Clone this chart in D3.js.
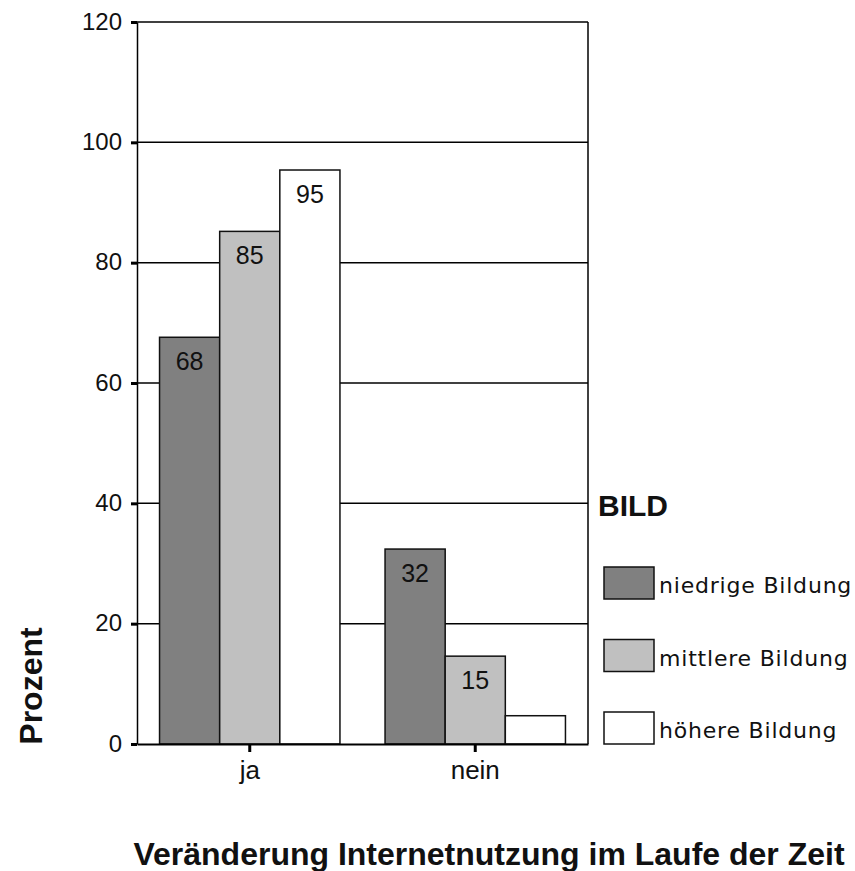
<!DOCTYPE html>
<html>
<head>
<meta charset="utf-8">
<script src="https://cdn.jsdelivr.net/npm/d3@7"></script>
<style>
  body { margin: 0; background: #fff; }
  text { font-family: "Liberation Sans", Arial, sans-serif; fill: #111; }
  .grid line { stroke: #000; stroke-width: 1.5; }
  .legend-label { font-family: "DejaVu Sans", sans-serif; font-size: 22px; letter-spacing: 0.8px; }
</style>
</head>
<body>
<script>
// Chart data
var categories = ["ja", "nein"];
var seriesNames = ["niedrige Bildung", "mittlere Bildung", "höhere Bildung"];
var niedrigeValues = [67.6, 32.4];
var mittlereValues = [85.2, 14.6];
var hoehereValues = [95.4, 4.7];
var yTicks = [0, 20, 40, 60, 80, 100, 120];
var seriesColors = ["#808080", "#c0c0c0", "#ffffff"];

// Define SVG area dimensions
var svgWidth = 855;
var svgHeight = 871;

var margin = { top: 22, right: 267, bottom: 127, left: 137 };
var chartWidth = svgWidth - margin.left - margin.right;
var chartHeight = svgHeight - margin.top - margin.bottom;

var svg = d3.select("body")
  .append("svg")
  .attr("width", svgWidth)
  .attr("height", svgHeight);

var chartGroup = svg.append("g")
  .attr("transform", "translate(" + margin.left + ", " + margin.top + ")");

// Build rows from the arrays
var seriesValues = [niedrigeValues, mittlereValues, hoehereValues];
var rows = categories.map(function (cat, i) {
  return {
    category: cat,
    values: seriesNames.map(function (name, s) {
      return { series: name, index: s, value: seriesValues[s][i] };
    })
  };
});

// Scales
var x0 = d3.scaleBand()
  .domain(categories)
  .range([0, chartWidth])
  .paddingInner(0.2)
  .paddingOuter(0.1);

var x1 = d3.scaleBand()
  .domain(seriesNames)
  .range([0, x0.bandwidth()]);

var yLinearScale = d3.scaleLinear()
  .domain([0, 120])
  .range([chartHeight, 0]);

var color = d3.scaleOrdinal().domain(seriesNames).range(seriesColors);

// Horizontal grid lines (behind the bars)
chartGroup.append("g")
  .attr("class", "grid")
  .selectAll("line")
  .data(yTicks.filter(function (d) { return d > 0; }))
  .enter()
  .append("line")
  .attr("x1", 0)
  .attr("x2", chartWidth)
  .attr("y1", function (d) { return yLinearScale(d); })
  .attr("y2", function (d) { return yLinearScale(d); });

// Right border of the plot
chartGroup.append("line")
  .attr("x1", chartWidth)
  .attr("x2", chartWidth)
  .attr("y1", 0)
  .attr("y2", chartHeight)
  .attr("stroke", "#000")
  .attr("stroke-width", 1.5);

// Bars
var groups = chartGroup.selectAll(".group")
  .data(rows)
  .enter()
  .append("g")
  .attr("class", "group")
  .attr("transform", function (d) { return "translate(" + x0(d.category) + ",0)"; });

groups.selectAll("rect")
  .data(function (d) { return d.values; })
  .enter()
  .append("rect")
  .attr("x", function (d) { return x1(d.series); })
  .attr("y", function (d) { return yLinearScale(d.value); })
  .attr("width", x1.bandwidth())
  .attr("height", function (d) { return chartHeight - yLinearScale(d.value); })
  .attr("fill", function (d) { return color(d.series); })
  .attr("stroke", "#111")
  .attr("stroke-width", 1.5);

// Value labels inside the bars (skip bars that are too small)
groups.selectAll(".value")
  .data(function (d) { return d.values.filter(function (v) { return v.value >= 10; }); })
  .enter()
  .append("text")
  .attr("class", "value")
  .attr("x", function (d) { return x1(d.series) + x1.bandwidth() / 2; })
  .attr("y", function (d) { return yLinearScale(d.value) + 33; })
  .attr("text-anchor", "middle")
  .style("font-size", "25px")
  .text(function (d) { return Math.round(d.value); });

// Left axis
var leftAxis = d3.axisLeft(yLinearScale)
  .tickValues(yTicks)
  .tickSize(6)
  .tickSizeOuter(0)
  .tickPadding(9);

var yAxisGroup = chartGroup.append("g")
  .call(leftAxis);
yAxisGroup.select(".domain").attr("stroke-width", 1.5);
yAxisGroup.selectAll(".tick line").attr("stroke-width", 3);
yAxisGroup.selectAll(".tick text")
  .attr("dy", "0.3em")
  .style("font-size", "24px")
  .style("font-family", "Liberation Sans, Arial, sans-serif");

// Bottom axis
var bottomAxis = d3.axisBottom(x0)
  .tickSize(8)
  .tickSizeOuter(0)
  .tickPadding(9);

var xAxisGroup = chartGroup.append("g")
  .attr("transform", "translate(0, " + chartHeight + ")")
  .call(bottomAxis);
xAxisGroup.select(".domain").attr("stroke-width", 2);
xAxisGroup.selectAll(".tick line").attr("stroke-width", 3);
xAxisGroup.selectAll(".tick text")
  .style("font-size", "26px")
  .style("font-family", "Liberation Sans, Arial, sans-serif");

// Legend
var legendX = chartWidth + 16;
var legendGroup = chartGroup.append("g")
  .attr("transform", "translate(" + legendX + ", 0)");

legendGroup.append("text")
  .attr("x", -6)
  .attr("y", yLinearScale(40) + 13)
  .style("font-size", "30px")
  .style("font-weight", "bold")
  .text("BILD");

var legendItems = legendGroup.selectAll(".legend-item")
  .data(seriesNames)
  .enter()
  .append("g")
  .attr("class", "legend-item")
  .attr("transform", function (d, i) { return "translate(0," + (545 + i * 72.5) + ")"; });

legendItems.append("rect")
  .attr("width", 50)
  .attr("height", 32)
  .attr("fill", function (d) { return color(d); })
  .attr("stroke", "#111")
  .attr("stroke-width", 1.5);

legendItems.append("text")
  .attr("class", "legend-label")
  .attr("x", 55)
  .attr("y", 26)
  .text(function (d) { return d; });

// Axis titles
svg.append("text")
  .attr("transform", "translate(42, 686) rotate(-90)")
  .attr("text-anchor", "middle")
  .style("font-size", "32px")
  .style("font-weight", "bold")
  .text("Prozent");

svg.append("text")
  .attr("x", 489)
  .attr("y", 865)
  .attr("text-anchor", "middle")
  .style("font-size", "32px")
  .style("font-weight", "bold")
  .text("Veränderung Internetnutzung im Laufe der Zeit");
</script>
</body>
</html>
